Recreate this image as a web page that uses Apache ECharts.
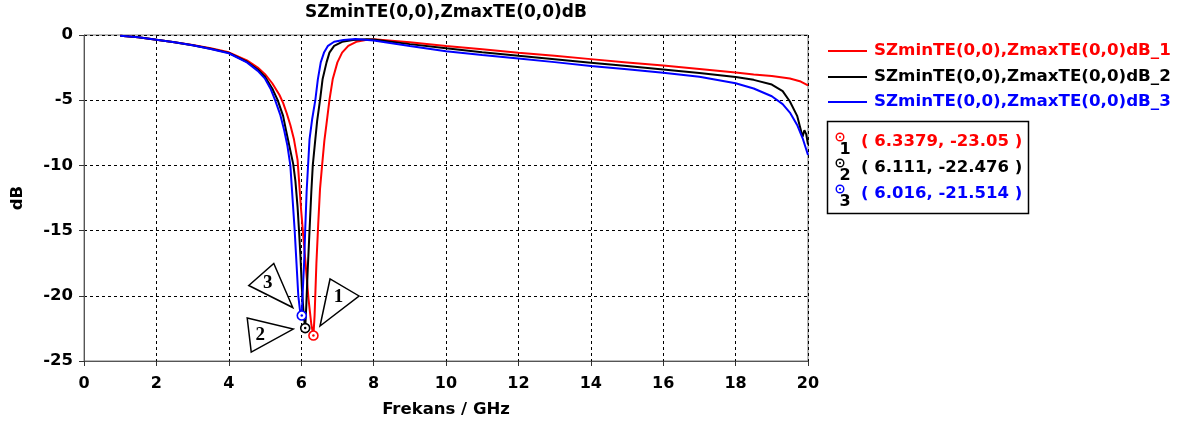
<!DOCTYPE html>
<html><head><meta charset="utf-8">
<script src="https://cdn.jsdelivr.net/npm/echarts@6/dist/echarts.min.js"></script>
<style>html,body{margin:0;padding:0;background:#fff}#c{width:1191px;height:425px}</style>
</head><body><div id="c"></div>
<script>
const titleText = 'SZminTE(0,0),ZmaxTE(0,0)dB';
const xAxisName = 'Frekans / GHz';
const yAxisName = 'dB';
const seriesNames = ['SZminTE(0,0),ZmaxTE(0,0)dB_1','SZminTE(0,0),ZmaxTE(0,0)dB_2','SZminTE(0,0),ZmaxTE(0,0)dB_3'];
const seriesColors = ['#ff0000','#000000','#0000ff'];

const freqRed = [1.0,1.5,2.0,2.5,3.0,3.5,4.0,4.5,4.8,5.0,5.2,5.4,5.5,5.6,5.7,5.8,5.9,6.0,6.1,6.2,6.28,6.3379,6.37,6.42,6.47,6.52,6.58,6.64,6.7,6.78,6.87,7.0,7.13,7.3,7.52,7.78,8.0,9,10,11,12,13,14,15,16,17,18,18.5,19,19.5,19.8,20];
const dbRed = [-0.05,-0.18,-0.37,-0.55,-0.77,-1.02,-1.33,-1.95,-2.5,-3.0,-3.7,-4.6,-5.2,-6.0,-6.9,-8.0,-9.6,-13.5,-16.8,-20.2,-22.2,-23.05,-21.5,-17.5,-14.5,-11.8,-9.9,-8.1,-6.8,-5.0,-3.4,-2.1,-1.35,-0.83,-0.52,-0.38,-0.32,-0.55,-0.85,-1.1,-1.36,-1.6,-1.85,-2.1,-2.34,-2.6,-2.88,-3.02,-3.15,-3.33,-3.57,-3.87];

const freqBlack = [1.0,1.5,2.0,2.5,3.0,3.5,4.0,4.5,4.8,5.0,5.2,5.35,5.5,5.58,5.68,5.78,5.84,5.9,5.94,5.98,6.02,6.07,6.111,6.14,6.18,6.23,6.28,6.32,6.39,6.44,6.52,6.59,6.70,6.78,6.91,7.13,7.43,7.8,8,9,10,11,12,13,14,15,16,17,18,18.5,19,19.3,19.5,19.7,19.85,19.9,19.95,20];
const dbBlack = [-0.05,-0.18,-0.37,-0.56,-0.78,-1.05,-1.37,-2.05,-2.65,-3.2,-4.1,-5.0,-6.2,-7.3,-8.6,-9.9,-11.2,-13.2,-15.0,-17.0,-19.5,-21.5,-22.476,-20.8,-18.0,-15.0,-12.0,-10.0,-8.0,-6.6,-5.0,-3.4,-2.1,-1.35,-0.83,-0.52,-0.38,-0.32,-0.34,-0.7,-1.02,-1.32,-1.6,-1.86,-2.12,-2.38,-2.64,-2.92,-3.22,-3.44,-3.8,-4.3,-5.1,-6.2,-7.8,-7.3,-7.6,-8.4];

const freqBlue = [1.0,1.5,2.0,2.5,3.0,3.5,4.0,4.5,4.8,5.0,5.15,5.28,5.42,5.53,5.62,5.70,5.76,5.82,5.87,5.92,5.97,6.016,6.04,6.08,6.11,6.15,6.19,6.23,6.30,6.39,6.46,6.54,6.63,6.74,6.91,7.17,7.5,8,9,10,11,12,13,14,15,16,17,18,18.5,19,19.3,19.5,19.7,19.85,20];
const dbBlue = [-0.05,-0.18,-0.37,-0.56,-0.79,-1.07,-1.4,-2.1,-2.75,-3.35,-4.1,-5.0,-6.1,-7.3,-8.5,-10.0,-12.5,-15.0,-17.5,-20.0,-21.2,-21.514,-19.8,-17.5,-15.0,-12.0,-10.0,-8.0,-6.5,-5.0,-3.4,-2.1,-1.35,-0.83,-0.52,-0.38,-0.3,-0.42,-0.85,-1.25,-1.53,-1.8,-2.08,-2.37,-2.63,-2.9,-3.2,-3.7,-4.1,-4.7,-5.3,-5.95,-6.9,-7.9,-9.2];

const markerIds = ['1','2','3'];
const markerFreq = [6.3379, 6.111, 6.016];
const markerDb = [-23.05, -22.476, -21.514];
const markerLabels = ['( 6.3379, -23.05 )','( 6.111, -22.476 )','( 6.016, -21.514 )'];

const xMin = 0, xMax = 20, xStep = 2;
const yMin = -25, yMax = 0, yStep = 5;

const FONT = "'DejaVu Sans', Verdana, sans-serif";
const chart = echarts.init(document.getElementById('c'), null, {renderer:'canvas'});

const freqs = [freqRed, freqBlack, freqBlue];
const dbs = [dbRed, dbBlack, dbBlue];

const series = seriesNames.map((n, i) => ({
  name: n,
  type: 'line',
  data: freqs[i].map((f, k) => [f, dbs[i][k]]),
  showSymbol: false,
  lineStyle: {color: seriesColors[i], width: 2},
  itemStyle: {color: seriesColors[i]},
  animation: false,
  z: 2 + i,
  markPoint: {
    silent: true,
    animation: false,
    label: {show: false},
    data: [
      {coord: [markerFreq[i], markerDb[i]], symbol: 'circle', symbolSize: 9,
       itemStyle: {color: '#fff', borderColor: seriesColors[i], borderWidth: 1.6}},
      {coord: [markerFreq[i], markerDb[i]], symbol: 'circle', symbolSize: 2.5,
       itemStyle: {color: seriesColors[i]}}
    ]
  }
}));

const option = {
  animation: false,
  backgroundColor: '#fff',
  grid: {left: 84, right: 383, top: 35, bottom: 64, containLabel: false, outerBoundsMode: 'none',
         show: true, borderColor: '#777', borderWidth: 1},
  xAxis: {
    type: 'value', min: xMin, max: xMax, interval: xStep,
    name: xAxisName, nameLocation: 'middle', nameGap: 40,
    nameTextStyle: {fontFamily: FONT, fontWeight: 'bold', fontSize: 16.5, color: '#000'},
    axisLine: {show: true, onZero: false, lineStyle: {color: '#555', width: 1}},
    axisTick: {show: true, length: 5, lineStyle: {color: '#333'}},
    axisLabel: {fontFamily: FONT, fontWeight: 'bold', fontSize: 16, color: '#000', margin: 15},
    splitLine: {show: true, lineStyle: {color: '#000', type: [3, 3], width: 1}}
  },
  yAxis: {
    type: 'value', min: yMin, max: yMax, interval: yStep,
    name: yAxisName, nameLocation: 'middle', nameGap: 58, nameRotate: 90,
    nameTextStyle: {fontFamily: FONT, fontWeight: 'bold', fontSize: 16.5, color: '#000'},
    axisLine: {show: true, onZero: false, lineStyle: {color: '#555', width: 1}},
    axisTick: {show: true, length: 5, lineStyle: {color: '#333'}},
    axisLabel: {fontFamily: FONT, fontWeight: 'bold', fontSize: 16.5, color: '#000', margin: 11},
    splitLine: {show: true, lineStyle: {color: '#000', type: [3, 3], width: 1}}
  },
  series: series
};
chart.setOption(option);

const g = [];
g.push({type: 'text', x: 446, y: 13, style: {text: titleText, fill: '#000', font: 'bold 17px ' + FONT, textAlign: 'center', textVerticalAlign: 'middle'}});

const legendY = [51, 77, 102];
seriesNames.forEach((n, i) => {
  g.push({type: 'line', shape: {x1: 828, y1: legendY[i], x2: 867, y2: legendY[i]}, style: {stroke: seriesColors[i], lineWidth: 2}});
  g.push({type: 'text', x: 874, y: legendY[i], style: {text: n, fill: seriesColors[i], font: 'bold 16.7px ' + FONT, textAlign: 'left', textVerticalAlign: 'middle'}});
});

g.push({type: 'rect', shape: {x: 827.5, y: 121.5, width: 201, height: 92}, style: {fill: '#fff', stroke: '#000', lineWidth: 1.5}});
const rowY = [142, 168, 194];
markerIds.forEach((id, i) => {
  g.push({type: 'circle', shape: {cx: 840, cy: rowY[i] - 5, r: 3.8}, style: {fill: '#fff', stroke: seriesColors[i], lineWidth: 1.4}});
  g.push({type: 'circle', shape: {cx: 840, cy: rowY[i] - 5, r: 1}, style: {fill: seriesColors[i]}});
  g.push({type: 'text', x: 845, y: rowY[i] + 8, style: {text: id, fill: '#000', font: 'bold 16px ' + FONT, textAlign: 'center', textVerticalAlign: 'middle'}});
  g.push({type: 'text', x: 861, y: rowY[i], style: {text: markerLabels[i], fill: seriesColors[i], font: 'bold 16.5px ' + FONT, textAlign: 'left', textVerticalAlign: 'middle'}});
});

const triOffsets = [
  [[6.6, -9.6], [16.6, -56.6], [45.6, -39.6]],
  [[-58, -10], [-12, 1], [-54, 24]],
  [[-53, -30], [-28, -52], [-9, -8]]
];
const triLabelOffsets = [[25, -38], [-45, 7], [-34, -32]];
markerIds.forEach((id, i) => {
  const p = chart.convertToPixel({gridIndex: 0}, [markerFreq[i], markerDb[i]]);
  const pts = triOffsets[i].map(o => [p[0] + o[0], p[1] + o[1]]);
  g.push({type: 'polygon', shape: {points: pts}, style: {fill: '#fff', stroke: '#000', lineWidth: 1.5}, z: 100});
  g.push({type: 'text', x: p[0] + triLabelOffsets[i][0], y: p[1] + triLabelOffsets[i][1], z: 101,
          style: {text: id, fill: '#000', font: 'bold 19px "Liberation Serif", serif', textAlign: 'center', textVerticalAlign: 'middle'}});
});

chart.setOption({graphic: g});
</script></body></html>
